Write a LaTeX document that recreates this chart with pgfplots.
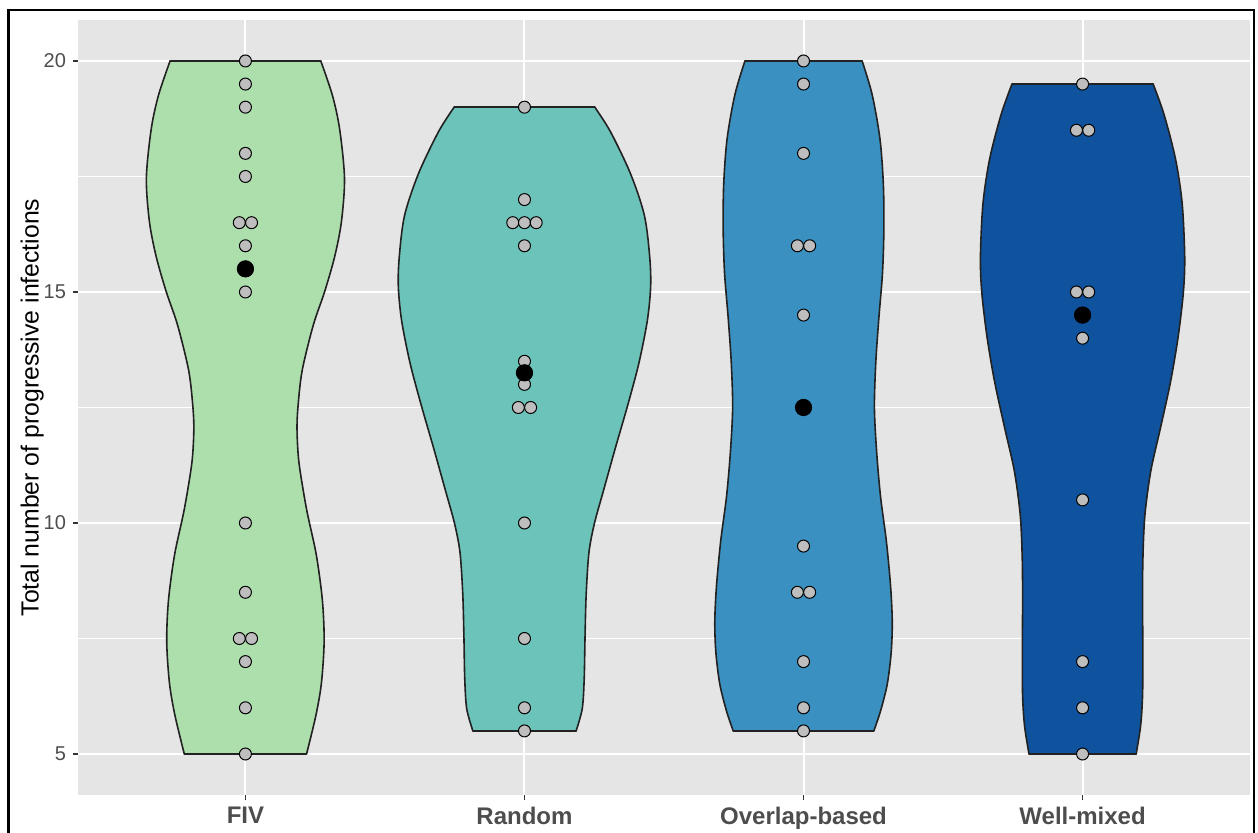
\documentclass[border=0pt]{standalone}
\usepackage{pgfplots}
\pgfplotsset{compat=1.18}
\usepackage{fontspec}
\setmainfont{Liberation Sans}
\definecolor{panel}{HTML}{E5E5E5}
\definecolor{tickgray}{HTML}{333333}
\definecolor{labgray}{HTML}{4D4D4D}
\definecolor{outline}{HTML}{222222}
\definecolor{dotgray}{HTML}{BEBEBE}
\definecolor{cfiv}{HTML}{ADDFAD}
\definecolor{crand}{HTML}{6BC3B9}
\definecolor{cover}{HTML}{3A90C0}
\definecolor{cwell}{HTML}{0F529D}
\begin{document}
\begin{tikzpicture}
\useasboundingbox (0,0) rectangle (629pt,416.5pt);
\clip (0,0) rectangle (629pt,416.5pt);
\begin{axis}[
  at={(39pt,19pt)}, anchor=south west,
  scale only axis, width=586pt, height=387.5pt,
  xmin=0.4, xmax=4.6, ymin=4.113, ymax=20.887,
  axis background/.style={fill=panel},
  axis line style={draw=none},
  xtick={1,2,3,4}, xticklabels={FIV,Random,Overlap-based,Well-mixed},
  ytick={5,10,15,20},
  minor ytick={7.5,12.5,17.5},
  grid=both,
  major grid style={white, line width=1pt},
  minor grid style={white, line width=0.5pt},
  tick align=outside, tick pos=left,
  major tick length=2.5pt, minor tick length=0pt,
  tick style={color=tickgray, line width=0.6pt},
  /pgf/number format/assume math mode=true,
  yticklabel style={font=\fontsize{10}{12}\selectfont, text=labgray},
  xticklabel style={font=\fontsize{12}{14}\selectfont\bfseries, text=labgray},
  ylabel={Total number of progressive infections},
  every axis y label/.style={at={(axis description cs:-0.039,0.5)}, rotate=90, anchor=center, font=\fontsize{12.4}{14}\selectfont},
  vfill/.style={draw=none},
  vline/.style={draw=outline, line width=0.8pt, line cap=round, line join=round, mark=none},
  vside/.style={vline, smooth, tension=0.5},
]
% ---------- FIV ----------
\addplot[fill=cfiv, vfill] coordinates {
(1.219,5) (1.252,5.82) (1.272,6.52) (1.282,7.42) (1.276,8.31) (1.254,9.31) (1.219,10.30) (1.192,11.30) (1.185,11.99) (1.188,12.49) (1.203,13.29) (1.243,14.28) (1.284,15.01) (1.320,15.77) (1.344,16.52) (1.355,17.46) (1.338,18.51) (1.312,19.25) (1.270,20)
(0.730,20) (0.688,19.25) (0.662,18.51) (0.645,17.46) (0.656,16.52) (0.680,15.77) (0.716,15.01) (0.757,14.28) (0.797,13.29) (0.812,12.49) (0.815,11.99) (0.808,11.30) (0.781,10.30) (0.746,9.31) (0.724,8.31) (0.718,7.42) (0.728,6.52) (0.748,5.82) (0.781,5)
} --cycle;
\addplot[vside] coordinates {
(1.219,5) (1.252,5.82) (1.272,6.52) (1.282,7.42) (1.276,8.31) (1.254,9.31) (1.219,10.30) (1.192,11.30) (1.185,11.99) (1.188,12.49) (1.203,13.29) (1.243,14.28) (1.284,15.01) (1.320,15.77) (1.344,16.52) (1.355,17.46) (1.338,18.51) (1.312,19.25) (1.270,20)};
\addplot[vside] coordinates {
(0.730,20) (0.688,19.25) (0.662,18.51) (0.645,17.46) (0.656,16.52) (0.680,15.77) (0.716,15.01) (0.757,14.28) (0.797,13.29) (0.812,12.49) (0.815,11.99) (0.808,11.30) (0.781,10.30) (0.746,9.31) (0.724,8.31) (0.718,7.42) (0.728,6.52) (0.748,5.82) (0.781,5)};
\addplot[vline] coordinates {(0.730,20) (1.270,20)};
\addplot[vline] coordinates {(0.781,5) (1.219,5)};
% ---------- Random ----------
\addplot[fill=crand, vfill] coordinates {
(2.185,5.5) (2.207,5.98) (2.214,6.62) (2.217,7.53) (2.221,8.44) (2.231,9.36) (2.251,10.0) (2.284,10.72) (2.326,11.63) (2.370,12.55) (2.410,13.46) (2.440,14.37) (2.452,15.10) (2.449,15.74) (2.430,16.65) (2.380,17.56) (2.308,18.47) (2.252,19)
(1.748,19) (1.692,18.47) (1.620,17.56) (1.570,16.65) (1.551,15.74) (1.548,15.10) (1.560,14.37) (1.590,13.46) (1.630,12.55) (1.674,11.63) (1.716,10.72) (1.749,10.0) (1.769,9.36) (1.779,8.44) (1.783,7.53) (1.786,6.62) (1.793,5.98) (1.815,5.5)
} --cycle;
\addplot[vside] coordinates {
(2.185,5.5) (2.207,5.98) (2.214,6.62) (2.217,7.53) (2.221,8.44) (2.231,9.36) (2.251,10.0) (2.284,10.72) (2.326,11.63) (2.370,12.55) (2.410,13.46) (2.440,14.37) (2.452,15.10) (2.449,15.74) (2.430,16.65) (2.380,17.56) (2.308,18.47) (2.252,19)};
\addplot[vside] coordinates {
(1.748,19) (1.692,18.47) (1.620,17.56) (1.570,16.65) (1.551,15.74) (1.548,15.10) (1.560,14.37) (1.590,13.46) (1.630,12.55) (1.674,11.63) (1.716,10.72) (1.749,10.0) (1.769,9.36) (1.779,8.44) (1.783,7.53) (1.786,6.62) (1.793,5.98) (1.815,5.5)};
\addplot[vline] coordinates {(1.748,19) (2.252,19)};
\addplot[vline] coordinates {(1.815,5.5) (2.185,5.5)};
% ---------- Overlap-based ----------
\addplot[fill=cover, vfill] coordinates {
(3.252,5.5) (3.276,5.93) (3.300,6.51) (3.314,7.19) (3.318,7.86) (3.312,8.63) (3.297,9.60) (3.276,10.57) (3.262,11.54) (3.254,12.50) (3.259,13.48) (3.270,14.44) (3.283,15.41) (3.288,16.37) (3.286,17.34) (3.274,18.31) (3.246,19.27) (3.210,20)
(2.790,20) (2.754,19.27) (2.726,18.31) (2.714,17.34) (2.712,16.37) (2.717,15.41) (2.730,14.44) (2.741,13.48) (2.746,12.50) (2.738,11.54) (2.724,10.57) (2.703,9.60) (2.688,8.63) (2.682,7.86) (2.686,7.19) (2.700,6.51) (2.724,5.93) (2.748,5.5)
} --cycle;
\addplot[vside] coordinates {
(3.252,5.5) (3.276,5.93) (3.300,6.51) (3.314,7.19) (3.318,7.86) (3.312,8.63) (3.297,9.60) (3.276,10.57) (3.262,11.54) (3.254,12.50) (3.259,13.48) (3.270,14.44) (3.283,15.41) (3.288,16.37) (3.286,17.34) (3.274,18.31) (3.246,19.27) (3.210,20)};
\addplot[vside] coordinates {
(2.790,20) (2.754,19.27) (2.726,18.31) (2.714,17.34) (2.712,16.37) (2.717,15.41) (2.730,14.44) (2.741,13.48) (2.746,12.50) (2.738,11.54) (2.724,10.57) (2.703,9.60) (2.688,8.63) (2.682,7.86) (2.686,7.19) (2.700,6.51) (2.724,5.93) (2.748,5.5)};
\addplot[vline] coordinates {(2.790,20) (3.210,20)};
\addplot[vline] coordinates {(2.748,5.5) (3.252,5.5)};
% ---------- Well-mixed ----------
\addplot[fill=cwell, vfill] coordinates {
(4.192,5) (4.208,5.61) (4.215,6.28) (4.216,7.25) (4.215,8.21) (4.216,9.18) (4.223,10.15) (4.244,11.11) (4.280,12.08) (4.315,13.05) (4.342,14.01) (4.361,14.98) (4.366,15.75) (4.357,16.91) (4.333,17.88) (4.292,18.84) (4.253,19.5)
(3.747,19.5) (3.708,18.84) (3.667,17.88) (3.643,16.91) (3.634,15.75) (3.639,14.98) (3.658,14.01) (3.685,13.05) (3.720,12.08) (3.756,11.11) (3.777,10.15) (3.784,9.18) (3.785,8.21) (3.784,7.25) (3.785,6.28) (3.792,5.61) (3.808,5)
} --cycle;
\addplot[vside] coordinates {
(4.192,5) (4.208,5.61) (4.215,6.28) (4.216,7.25) (4.215,8.21) (4.216,9.18) (4.223,10.15) (4.244,11.11) (4.280,12.08) (4.315,13.05) (4.342,14.01) (4.361,14.98) (4.366,15.75) (4.357,16.91) (4.333,17.88) (4.292,18.84) (4.253,19.5)};
\addplot[vside] coordinates {
(3.747,19.5) (3.708,18.84) (3.667,17.88) (3.643,16.91) (3.634,15.75) (3.639,14.98) (3.658,14.01) (3.685,13.05) (3.720,12.08) (3.756,11.11) (3.777,10.15) (3.784,9.18) (3.785,8.21) (3.784,7.25) (3.785,6.28) (3.792,5.61) (3.808,5)};
\addplot[vline] coordinates {(3.747,19.5) (4.253,19.5)};
\addplot[vline] coordinates {(3.808,5) (4.192,5)};
% ---------- grey points ----------
\addplot[only marks, mark=*, mark size=3pt, mark options={fill=dotgray, draw=black, line width=0.5pt}] coordinates {
(1,20) (1,19.5) (1,19) (1,18) (1,17.5) (0.978,16.5) (1.022,16.5) (1,16) (1,15) (1,10) (1,8.5) (0.978,7.5) (1.022,7.5) (1,7) (1,6) (1,5)
(2,19) (2,17) (1.958,16.5) (2,16.5) (2.042,16.5) (2,16) (2,13.5) (2,13) (1.978,12.5) (2.022,12.5) (2,10) (2,7.5) (2,6) (2,5.5)
(3,20) (3,19.5) (3,18) (2.978,16) (3.022,16) (3,14.5) (3,9.5) (2.978,8.5) (3.022,8.5) (3,7) (3,6) (3,5.5)
(4,19.5) (3.978,18.5) (4.022,18.5) (3.978,15) (4.022,15) (4,14) (4,10.5) (4,7) (4,6) (4,5)
};
% ---------- medians ----------
\addplot[only marks, mark=*, mark size=4.1pt, mark options={fill=black, draw=black}] coordinates {
(1,15.5) (2,13.25) (3,12.5) (4,14.5)
};
\end{axis}
\draw[line width=1.25pt] (4.25pt,-20pt) rectangle (627pt,411.5pt);
\end{tikzpicture}
\end{document}
